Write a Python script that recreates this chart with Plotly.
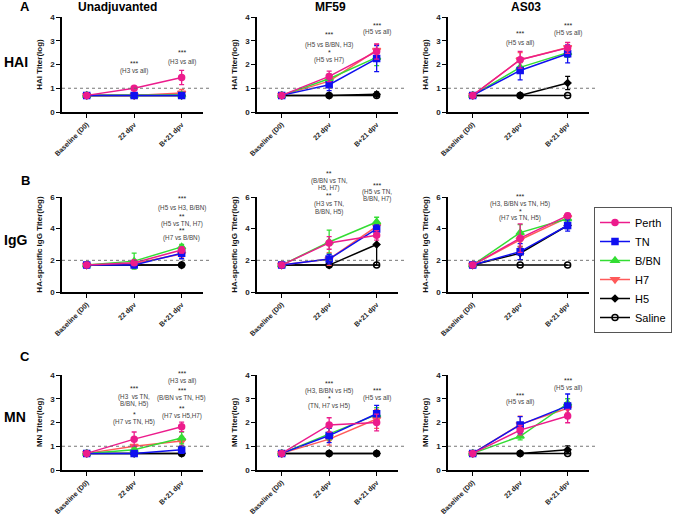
import plotly.graph_objects as go

categories = ["Baseline (D0)", "22 dpv", "B+21 dpv"]
groups = ["Perth", "TN", "B/BN", "H7", "H5", "Saline"]
adjuvants = ["Unadjuvanted", "MF59", "AS03"]
assays = ["HAI", "IgG", "MN"]
ytitles = ["HAI Titer(log)", "HA-specific IgG Titer(log)", "MN Titer(log)"]
yranges = [[0, 4], [0, 6], [0, 4]]
ydticks = [1, 2, 1]
thresholds = [1, 2, 1]

# values per panel, rows ordered as groups
hai_unadj = [[0.7, 1.0, 1.45], [0.7, 0.7, 0.7], [0.7, 0.7, 0.72], [0.7, 0.7, 0.8], [0.7, 0.7, 0.7], [0.7, 0.7, 0.7]]
hai_unadj_err = [[0, 0.03, 0.3], [0, 0, 0.07], [0, 0, 0.05], [0, 0, 0.15], [0, 0, 0], [0, 0, 0]]
hai_mf59 = [[0.7, 1.5, 2.55], [0.7, 1.15, 2.25], [0.7, 1.4, 2.3], [0.7, 1.3, 2.6], [0.7, 0.7, 0.75], [0.7, 0.7, 0.7]]
hai_mf59_err = [[0, 0.22, 0.32], [0, 0.25, 0.55], [0, 0.2, 0.35], [0, 0.2, 0.25], [0, 0.03, 0.1], [0, 0, 0]]
hai_as03 = [[0.7, 2.2, 2.7], [0.7, 1.75, 2.45], [0.7, 1.88, 2.5], [0.7, 2.2, 2.72], [0.7, 0.7, 1.22], [0.7, 0.7, 0.7]]
hai_as03_err = [[0, 0.35, 0.23], [0, 0.4, 0.38], [0, 0.2, 0.2], [0, 0.3, 0.2], [0, 0, 0.28], [0, 0, 0]]

igg_unadj = [[1.7, 1.85, 2.65], [1.7, 1.7, 2.45], [1.7, 1.95, 2.85], [1.7, 1.8, 2.4], [1.7, 1.7, 1.7], [1.7, 1.7, 1.7]]
igg_unadj_err = [[0, 0.15, 0.2], [0, 0.1, 0.35], [0, 0.5, 0.15], [0, 0.2, 0.2], [0, 0, 0.05], [0, 0, 0]]
igg_mf59 = [[1.7, 3.1, 3.58], [1.7, 2.08, 3.98], [1.7, 3.16, 4.42], [1.7, 2.08, 4.15], [1.7, 1.7, 3.0], [1.7, 1.7, 1.7]]
igg_mf59_err = [[0, 0.4, 0.3], [0, 0.3, 0.25], [0, 0.75, 0.3], [0, 0.4, 0.3], [0, 0.1, 1.3], [0, 0, 0]]
igg_as03 = [[1.7, 3.4, 4.82], [1.7, 2.55, 4.2], [1.7, 3.75, 4.63], [1.7, 3.3, 4.7], [1.7, 2.45, 4.2], [1.7, 1.7, 1.7]]
igg_as03_err = [[0, 0.9, 0.15], [0, 0.5, 0.35], [0, 0.5, 0.2], [0, 0.4, 0.2], [0, 0.4, 0.2], [0, 0, 0]]

mn_unadj = [[0.7, 1.3, 1.82], [0.7, 0.7, 0.85], [0.7, 0.85, 1.35], [0.7, 1.0, 1.22], [0.7, 0.7, 0.7], [0.7, 0.7, 0.7]]
mn_unadj_err = [[0, 0.3, 0.2], [0, 0.02, 0.15], [0, 0.05, 0.25], [0, 0.05, 0.2], [0, 0, 0], [0, 0, 0]]
mn_mf59 = [[0.7, 1.9, 2.0], [0.7, 1.45, 2.37], [0.7, 1.52, 2.33], [0.7, 1.3, 2.15], [0.7, 0.7, 0.7], [0.7, 0.7, 0.7]]
mn_mf59_err = [[0, 0.3, 0.35], [0, 0.3, 0.35], [0, 0.25, 0.3], [0, 0.25, 0.4], [0, 0, 0], [0, 0, 0]]
mn_as03 = [[0.7, 1.68, 2.27], [0.7, 1.9, 2.7], [0.7, 1.42, 2.8], [0.7, 1.92, 2.6], [0.7, 0.7, 0.85], [0.7, 0.7, 0.7]]
mn_as03_err = [[0, 0.2, 0.28], [0, 0.35, 0.5], [0, 0.15, 0.2], [0, 0.35, 0.2], [0, 0, 0.17], [0, 0, 0]]

panels = [
    [(hai_unadj, hai_unadj_err), (hai_mf59, hai_mf59_err), (hai_as03, hai_as03_err)],
    [(igg_unadj, igg_unadj_err), (igg_mf59, igg_mf59_err), (igg_as03, igg_as03_err)],
    [(mn_unadj, mn_unadj_err), (mn_mf59, mn_mf59_err), (mn_as03, mn_as03_err)],
]

# significance labels: (category index, pixel y, text)
sig_labels = [
    [
        [(1, 64, "***"), (1, 71, "(H3 vs all)"), (2, 54, "***"), (2, 62, "(H3 vs all)")],
        [(1, 36, "***"), (1, 45, "(H5 vs B/BN, H3)"), (1, 54, "*"), (1, 60, "(H5 vs H7)"),
         (2, 26, "***"), (2, 32, "(H5 vs all)")],
        [(1, 35, "***"), (1, 43, "(H5 vs all)"), (2, 26, "***"), (2, 33, "(H5 vs all)")],
    ],
    [
        [(2, 200, "***"), (2, 208, "(H5 vs H3, B/BN)"), (2, 217, "**"), (2, 224, "(H5 vs TN, H7)"),
         (2, 232, "**"), (2, 238, "(H7 vs B/BN)")],
        [(1, 174, "**"), (1, 181, "(B/BN vs TN,"), (1, 188, "H5, H7)"), (1, 196, "**"),
         (1, 204, "(H3 vs TN,"), (1, 212, "B/BN, H5)"),
         (2, 186, "***"), (2, 192, "(H5 vs TN,"), (2, 199, "B/BN, H7)")],
        [(1, 197, "***"), (1, 204, "(H3, B/BN vs TN, H5)"), (1, 212, "*"), (1, 218, "(H7 vs TN, H5)")],
    ],
    [
        [(1, 389, "***"), (1, 397, "(H3  vs TN,"), (1, 404, "B/BN, H5)"), (1, 415, "*"),
         (1, 422, "(H7 vs TN, H5)"),
         (2, 374, "***"), (2, 381, "(H3 vs all)"), (2, 391, "***"), (2, 398, "(B/BN vs TN, H5)"),
         (2, 409, "**"), (2, 416, "(H7 vs H5,H7)")],
        [(1, 384, "***"), (1, 391, "(H3, B/BN vs H5)"), (1, 399, "*"), (1, 406, "(TN, H7 vs H5)"),
         (2, 391, "***"), (2, 398, "(H5 vs all)")],
        [(1, 396, "***"), (1, 402, "(H5 vs all)"), (2, 381, "***"), (2, 388, "(H5 vs all)")],
    ],
]

colors = ["#EC1C8C", "#1010F0", "#33DD33", "#FF5A5A", "#000000", "#000000"]
symbols = ["circle", "square", "triangle-up", "triangle-down", "diamond", "circle-open"]
msizes = [6, 6, 7, 7, 5, 6]

W, H = 675, 514
col_px = [(62, 203), (257, 398), (448, 589)]
row_px = [(17, 112), (197, 292), (375, 470)]
xrange_ = [-0.52, 2.45]

FONT = "Arial, Liberation Sans, sans-serif"
fig = go.Figure()
layout = {}
annotations = []
shapes = []

for r in range(3):
    for c in range(3):
        idx = r * 3 + c + 1
        xa = "x" if idx == 1 else f"x{idx}"
        ya = "y" if idx == 1 else f"y{idx}"
        vals, errs = panels[r][c]
        for g in reversed(range(len(groups))):
            fig.add_trace(go.Scatter(
                x=categories, y=vals[g], xaxis=xa, yaxis=ya,
                mode="lines+markers", name=groups[g], legendgroup=groups[g],
                showlegend=(idx == 1),
                line=dict(color=colors[g], width=1.5),
                marker=dict(symbol=symbols[g], size=msizes[g], color=colors[g],
                            line=dict(color=colors[g], width=1.5)),
                error_y=dict(type="data", array=errs[g], color=colors[g], thickness=1.3, width=2.5),
            ))
        x0, x1 = col_px[c]
        y0, y1 = row_px[r]
        layout["xaxis" if idx == 1 else f"xaxis{idx}"] = dict(
            domain=[x0 / W, x1 / W], anchor=ya, type="category", range=xrange_,
            showline=True, linecolor="black", linewidth=1.5, ticks="outside", ticklen=4,
            tickcolor="black", tickwidth=1.2, tickangle=-45, showgrid=False, zeroline=False,
            tickfont=dict(family=FONT, size=7, color="#222", weight="bold"), automargin=False,
        )
        layout["yaxis" if idx == 1 else f"yaxis{idx}"] = dict(
            domain=[1 - y1 / H, 1 - y0 / H], anchor=xa, range=yranges[r], dtick=ydticks[r],
            showline=True, linecolor="black", linewidth=1.5, ticks="outside", ticklen=4,
            tickcolor="black", tickwidth=1.2, showgrid=False, zeroline=False,
            tickfont=dict(family=FONT, size=8, color="#222", weight="bold"), automargin=False,
            title=dict(text=ytitles[r], font=dict(family=FONT, size=8, color="#111", weight="bold"),
                       standoff=6),
        )
        shapes.append(dict(type="line", xref=f"{xa} domain", yref=ya, x0=0, x1=1.06,
                           y0=thresholds[r], y1=thresholds[r],
                           line=dict(color="#666", width=0.9, dash="dot")))
        for (ci, ypx, txt) in sig_labels[r][c]:
            star = txt.startswith("*")
            annotations.append(dict(
                x=ci, y=1 - (ypx - (1 if star else 0)) / H, xref=xa, yref="paper", text=txt,
                showarrow=False, xanchor="center", yanchor="middle", borderpad=0,
                font=dict(family=FONT, size=7 if star else 6.3, color="#222" if star else "#444"),
            ))

# column titles
for c, name in enumerate(adjuvants):
    cx = [117, 330, 526][c]
    annotations.append(dict(x=cx / W, y=1 - 7 / H, xref="paper", yref="paper", text=f"<b>{name}</b>",
                            showarrow=False, xanchor="center", yanchor="middle",
                            font=dict(family=FONT, size=12, color="black")))
# panel letters
for letter, ypx in zip(["A", "B", "C"], [7, 180, 356]):
    annotations.append(dict(x=25 / W, y=1 - ypx / H, xref="paper", yref="paper", text=f"<b>{letter}</b>",
                            showarrow=False, xanchor="center", yanchor="middle",
                            font=dict(family=FONT, size=13, color="black")))
# row labels
for lab, ypx in zip(assays, [62, 240, 417]):
    annotations.append(dict(x=2 / W, y=1 - ypx / H, xref="paper", yref="paper", text=f"<b>{lab}</b>",
                            showarrow=False, xanchor="left", yanchor="middle",
                            font=dict(family=FONT, size=14, color="black")))

fig.update_layout(
    width=W, height=H, margin=dict(l=0, r=0, t=0, b=0),
    paper_bgcolor="white", plot_bgcolor="white",
    annotations=annotations, shapes=shapes,
    showlegend=True,
    legend=dict(x=672 / W, y=1 - 207 / H, xanchor="right", yanchor="top", traceorder="reversed",
                bordercolor="#555", borderwidth=1, font=dict(family=FONT, size=11, color="black"),
                itemwidth=30, tracegroupgap=0),
    **layout,
)
fig.write_html("out.html", config={"displayModeBar": False},
               post_script="document.body.style.margin='0';document.body.style.padding='0';")
